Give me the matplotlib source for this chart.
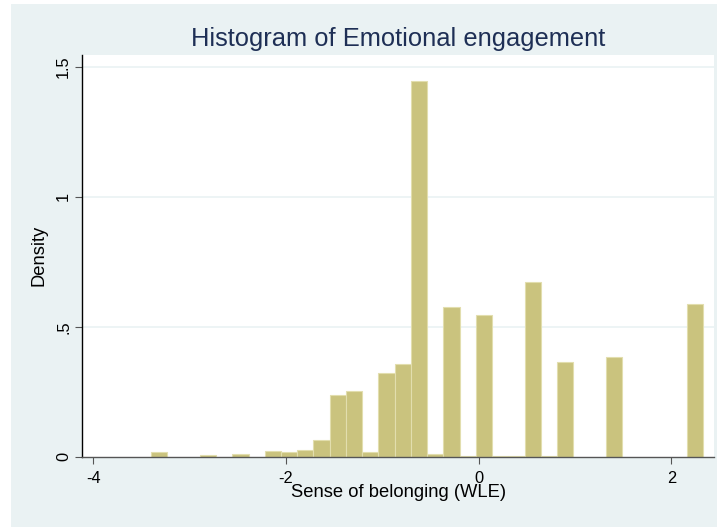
import numpy as np
import matplotlib
matplotlib.use("Agg")
import matplotlib.pyplot as plt
from matplotlib.patches import Rectangle

plt.rcParams['font.family'] = ['Liberation Sans', 'DejaVu Sans']

# ---- data ----
bin_start = -3.40
bin_width = 0.1685
densities = [0.019, 0.0, 0.0, 0.005, 0.0, 0.011, 0.0, 0.022, 0.019, 0.027,
             0.064, 0.236, 0.253, 0.019, 0.323, 0.355, 1.444, 0.009, 0.577, 0.004,
             0.544, 0.003, 0.002, 0.671, 0.002, 0.363, 0.0, 0.0, 0.382, 0.0,
             0.0, 0.0, 0.0, 0.587]
x_ticks = [-4, -2, 0, 2]
x_ticklabels = ["-4", "-2", "0", "2"]
y_ticks = [0, 0.5, 1, 1.5]
y_ticklabels = ["0", ".5", "1", "1.5"]
title = "Histogram of Emotional engagement"
xlabel = "Sense of belonging (WLE)"
ylabel = "Density"

W, H = 719, 527
fig = plt.figure(figsize=(W / 100, H / 100), dpi=100, facecolor="white")
bg = Rectangle((11 / W, 0), (717 - 11) / W, (527 - 4) / H, transform=fig.transFigure,
               facecolor="#EAF2F3", edgecolor="none", zorder=-10)
fig.patches.append(bg)

ax = fig.add_axes([82.3 / W, (H - 456.7) / H, (714 - 82.3) / W, (456.7 - 55) / H])
ax.set_zorder(1)
ax.set_facecolor("white")

dens = np.array(densities)
lefts = bin_start + bin_width * np.arange(len(dens))
mask = dens > 0
ax.bar(lefts[mask], dens[mask], width=bin_width, align="edge",
       facecolor="#CAC37E", edgecolor="#E2DEAE", linewidth=0.8, zorder=2)

ax.set_xlim(-4.114, 2.442)
ax.set_ylim(0, 1.545)

for yv in y_ticks[1:]:
    ax.axhline(yv, color="#EAF2F3", linewidth=1.2, zorder=1)

ax.set_xticks(x_ticks)
ax.set_xticklabels(x_ticklabels, fontsize=11.8)
ax.set_yticks(y_ticks)
ax.set_yticklabels(y_ticklabels, fontsize=11.8, rotation=90, va="center")
ax.tick_params(axis="x", direction="out", length=5, width=0.8, color="#555555", pad=5)
ax.tick_params(axis="y", direction="out", length=5, width=0.8, color="#555555", pad=3)

for s in ["top", "right"]:
    ax.spines[s].set_visible(False)
ax.spines["left"].set_color("black")
ax.spines["left"].set_linewidth(1.0)
ax.spines["bottom"].set_color("#555555")
ax.spines["bottom"].set_linewidth(1.0)

ax.set_xlabel(xlabel, fontsize=13.2, labelpad=-1)
ax.set_ylabel(ylabel, fontsize=13.2, labelpad=6)

fig.text(398 / W, 1 - 39 / H, title, fontsize=18.4, color="#1E2F55",
         ha="center", va="center")

fig.savefig("out.png", dpi=100, facecolor="white")
